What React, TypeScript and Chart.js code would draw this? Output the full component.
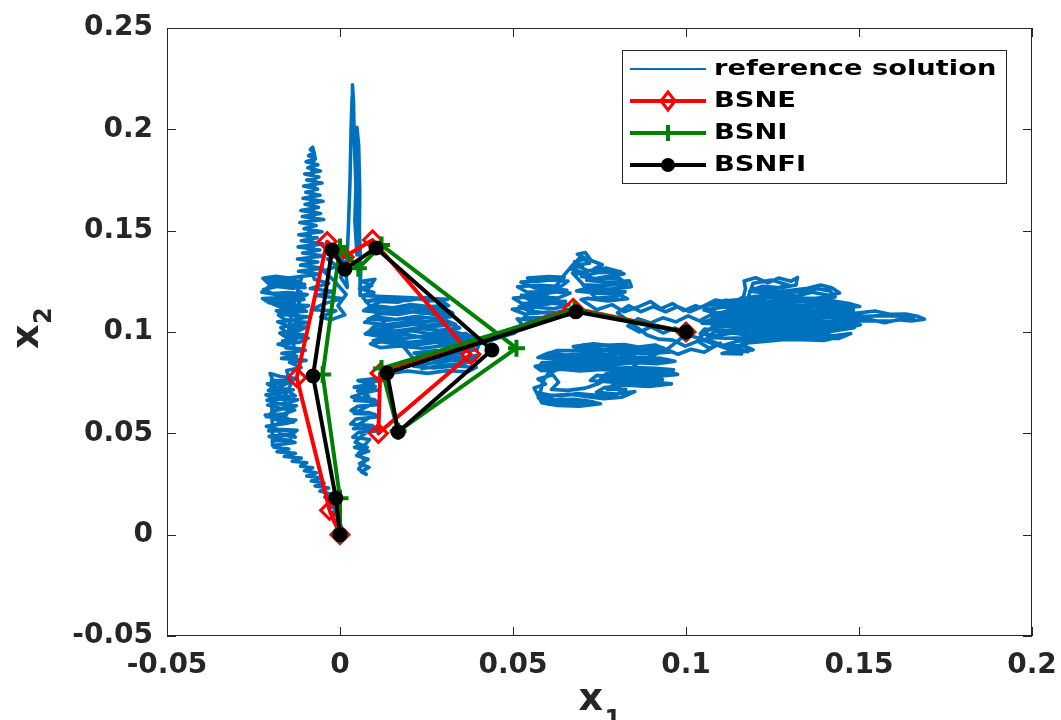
import React, { useEffect, useRef } from "react";
import { Chart, registerables } from "chart.js";

Chart.register(...registerables);

// ---- axis ticks ----
const xTicks = [-0.05, 0, 0.05, 0.1, 0.15, 0.2];
const yTicks = [-0.05, 0, 0.05, 0.1, 0.15, 0.2, 0.25];

// ---- approximation series (data units) ----
const bsneX = [0, -0.003, -0.0125, -0.0037, 0.0012, 0.0094, 0.0378, 0.0111, 0.0116, 0.0674, 0.1];
const bsneY = [0, 0.012, 0.0775, 0.1446, 0.137, 0.1454, 0.089, 0.05, 0.0797, 0.1117, 0.1];

const bsniX = [0, 0, -0.005, 0, 0.0053, 0.012, 0.051, 0.0168, 0.012, 0.0678, 0.1];
const bsniY = [0, 0.018, 0.079, 0.142, 0.1314, 0.1429, 0.092, 0.051, 0.082, 0.111, 0.1];

const bsnfiX = [0, -0.0012, -0.0078, -0.0023, 0.0014, 0.0104, 0.0439, 0.0168, 0.0136, 0.0682, 0.1];
const bsnfiY = [0, 0.0181, 0.0783, 0.1405, 0.131, 0.1415, 0.0911, 0.0507, 0.0798, 0.11, 0.1];

// ---- reference solution path, in thousandths (x1, x2), in path order ----
const refBand = [
  [0, 0], [-1.2, 2.5], [0.3, 4.5], [-1.8, 6.5], [-0.2, 8.5], [-2.6, 10.5], [-0.8, 12.5], [-3.5, 14.5],
  [-1.6, 16.5], [-4.4, 18.5], [-2.5, 20], [-5.8, 21.5], [-3.3, 23], [-7.2, 24], [-4.6, 25.5],
  [-8.3, 26.5], [-5.5, 28], [-9.6, 29], [-6.8, 30.5], [-10.3, 31.5], [-7.9, 33], [-11.4, 33.8],
  [-9.6, 35.5], [-13.8, 36.2], [-11.2, 37.8], [-16.1, 38.6], [-12.9, 40.1], [-18.2, 40.9],
  [-14.8, 42.3], [-19.1, 43.2], [-16.3, 44.8],
];
const refLeftLowFill = [
  [-14.2, 46.8], [-19.2, 46.3], [-17.4, 49.6], [-12.9, 48.1], [-14.6, 51.4], [-20.6, 51.2],
  [-18.7, 54.4], [-13.4, 55.6], [-15.8, 57.9], [-21.3, 58.2], [-18.9, 61.1], [-12.6, 63.6],
  [-15.7, 63.8], [-21.1, 66.3], [-17.6, 68.2], [-12.9, 68.4], [-14.8, 70.6], [-20.7, 71.2],
  [-16.5, 73.6], [-13.9, 75.8], [-19.8, 76.2],
];
const refLeftLow = [
  [-19.5, 44], [-13, 45.5], [-16, 47], [-20.5, 48.5], [-14, 49.5], [-12.4, 51.5], [-18, 52],
  [-21.3, 53.5], [-15.2, 55], [-12.8, 56.5], [-19.1, 57], [-21.6, 59], [-16.4, 59.5], [-13.1, 61.5],
  [-17.5, 62.5], [-20.9, 64], [-15, 65], [-12.2, 66.5], [-18.6, 67], [-21.4, 69], [-16.8, 70],
  [-13.5, 71.5], [-19.2, 72.5], [-21, 74.5], [-15.6, 75], [-12.6, 77], [-17.2, 78], [-20.2, 79.5],
  [-18.1, 70.8], [-19.6, 62.3], [-17.4, 54.6], [-15.1, 60.2], [-16.3, 67.4], [-14.2, 74.1],
  [-15.4, 81], [-11.2, 82.5], [-14.6, 85], [-9.8, 86], [-16.9, 87],
];
const refLeftHigh = [
  [-12.5, 88], [-16.8, 89.5], [-10, 91], [-14.3, 92.5], [-17.9, 94], [-11.6, 95], [-9.2, 97],
  [-15.7, 97.5], [-17.4, 99.5], [-12.2, 100.5], [-9.6, 102.5], [-14.8, 103], [-18, 105],
  [-13.1, 106], [-9.4, 107.5], [-16.2, 108.5], [-18.4, 110.5], [-11.8, 111], [-9.1, 113],
  [-15.5, 113.5], [-20.6, 114.5], [-22.4, 116.5], [-17.1, 117], [-12.3, 116.5], [-9.5, 118.5],
  [-14.8, 119.5], [-19.6, 119], [-22.1, 121], [-18.2, 122.5], [-13.4, 121.5], [-10.2, 123.5],
  [-15.9, 124.5], [-20.7, 124], [-22.3, 126.5], [-18.6, 127.5], [-14.2, 126.5], [-11, 127.5],
  [-13.6, 112.2], [-15.4, 96.1], [-12.9, 104.4], [-11.3, 119.8],
];
const refLeftHighFill = [
  [-13.7, 89.2], [-11.5, 91.7], [-15.6, 92.1], [-16.6, 95.6], [-12.9, 96.3], [-10.6, 98.6],
  [-15.2, 99.3], [-17.1, 102.2], [-13.6, 103.6], [-9.2, 104.7], [-11.2, 105.1], [-15.9, 106.1],
  [-17.8, 108.4], [-14.5, 109.7], [-9.7, 110.2], [-12.8, 112.6], [-17.1, 112.1], [-21.4, 115.4],
  [-18.7, 115.6], [-14.2, 115.2], [-10.4, 116.1], [-13.4, 118.3], [-18.1, 118.4], [-22.6, 119.6],
  [-20.4, 122.6], [-15.2, 122.7], [-10.1, 121.9], [-12.1, 125.2], [-16.9, 125.9], [-21.4, 125.3],
];
const refColumn = [
  [-6.1, 128.5], [-12, 130], [-5, 131.5], [-11.4, 133], [-6.4, 134.5], [-12.3, 136], [-4.6, 137.5],
  [-10.8, 139], [-5.8, 140.5], [-12.1, 142], [-4.9, 143.5], [-11.2, 145], [-6.6, 146.5],
  [-11.9, 148], [-5.2, 149.5], [-10.4, 151], [-6.9, 152.5], [-11.6, 154], [-4.7, 155.5],
  [-10.9, 157], [-5.6, 158.5], [-11.3, 160], [-6.2, 161.5], [-10.1, 163], [-4.9, 164.5],
  [-10.7, 166], [-5.8, 167.5], [-9.9, 169], [-6.5, 170.5], [-10.5, 172], [-5.2, 173.5],
  [-9.6, 175], [-6.1, 176.5], [-10.2, 178], [-5.7, 179.5], [-9.3, 181], [-6.4, 182.5], [-9.8, 184],
  [-7.1, 185.5], [-9.1, 187], [-7.4, 188.5], [-8.6, 190], [-7.9, 191.2], [-7.2, 186], [-8.3, 180],
  [-6.9, 174], [-8.7, 166], [-7.3, 158], [-9.1, 150], [-7.6, 142], [-8.8, 134], [-7.4, 126],
];
const refBase = [
  [-3.2, 124], [-8.6, 121.5], [-1.8, 120], [-6.9, 118], [0.6, 116.5], [-4.5, 114], [-8.3, 111],
  [-1.2, 110.5], [-5.6, 107.5], [-2.7, 106], [1.4, 108.5], [-0.6, 113], [1.8, 118.5], [-2.1, 126],
  [-4.8, 130], [-0.9, 132.5], [-3.6, 136], [0.4, 138.5], [-1.9, 140], [1.5, 134], [0.2, 127],
  [2.1, 122],
];
const refSpike = [
  [1.8, 128], [2.4, 150], [2.9, 175], [3.2, 200], [3.5, 216], [3.6, 222], [3.9, 214], [4.1, 196],
  [4.6, 172], [4.3, 155], [4.9, 138], [5.0, 160], [5.1, 185], [4.9, 201], [5.4, 192], [5.7, 170],
  [5.6, 150], [6.0, 130], [5.8, 118],
];
const refMidFill = [
  [31.1, 116.1], [25.8, 115.3], [21.1, 116.9], [16.7, 114.7], [11.6, 115.1], [8.2, 111.7],
  [13.6, 111.2], [19.6, 112.4], [25.2, 111.1], [29.7, 111.9], [32.6, 109.3], [27.2, 108.6],
  [21.9, 110.2], [16.8, 108.6], [11.8, 109.1], [8.1, 106.3], [13.7, 105.8], [19.1, 106.7],
  [24.8, 105.2], [30.1, 106.1], [33.4, 103.7], [27.6, 102.8], [21.4, 103.8], [15.2, 102.4],
  [10.1, 103.4], [8.4, 100.2], [14.1, 99.2], [20.5, 100.6], [26.3, 99.1], [32.6, 100.7],
  [37.1, 97.8], [31.9, 96.9], [25.4, 98.2], [19.1, 96.9], [13.2, 97.1], [9.6, 95.8], [15.6, 94.2],
  [21.9, 93.6], [27.9, 94.9], [34.2, 93.9], [38.6, 92.6], [35.4, 89.6], [29.4, 89.3], [23.2, 88.7],
  [27.8, 86.1], [33.9, 86.8], [39.2, 86.3], [35.1, 84.1], [29.3, 83.6], [23.6, 81.9],
];
const refMidUpper = [
  [6.2, 118], [9.8, 119.5], [5.6, 121.5], [9.2, 123], [6.4, 125], [10.1, 126], [7.8, 120.5],
  [11.2, 116.5], [7.4, 115], [14.2, 116.5], [19.8, 115.5], [24.6, 117], [29.4, 115.2], [31.4, 113],
  [26.1, 112.5], [20.5, 113.5], [15.3, 112], [9.1, 113], [6.8, 110.5], [12.4, 109.5], [18.7, 110.8],
  [23.9, 109.2], [30.2, 110.1], [32.1, 107.5], [27.3, 106.8], [21.6, 107.6], [16.2, 106.2],
  [10.5, 107.4], [7.1, 104.8], [13.1, 103.6], [19.4, 104.9], [25.2, 103.3], [31.4, 104.6],
  [34.6, 102], [28.7, 100.8], [22.5, 101.9], [15.9, 100.5], [9.6, 101.6], [7.3, 99], [12.8, 97.6],
  [18.9, 98.9], [24.6, 97.2], [30.8, 98.5], [36.2, 99.3], [38.9, 96.6], [33.1, 95.4], [26.7, 96.1],
  [20.2, 94.9], [14.1, 95.8], [8.8, 94.2], [11.6, 92.3], [17.4, 93.1], [23.7, 92], [29.9, 93.2],
  [35.7, 92.8], [40.2, 94.1], [39.6, 91.2], [33.8, 90.1], [27.6, 90.8], [21.4, 89.6], [24.9, 87.3],
  [30.7, 88.1], [36.4, 87.4], [40.1, 88.6], [38.2, 85.4], [32.5, 85.9], [26.4, 84.7], [21.2, 83.1],
  [27.1, 82.3], [33.6, 83.2], [39.4, 82.5], [36.9, 80.4], [30.8, 80.9], [25.3, 79.6], [19.6, 80.8],
];
const refMidLow = [
  [14.1, 79.5], [10.9, 77.2], [5.2, 76], [9.6, 74.3], [4.1, 72.8], [10.8, 71.4], [6.3, 69.6],
  [3.4, 68], [9.9, 66.7], [11.3, 64.2], [5.1, 63.3], [3.2, 61.2], [8.7, 60.1], [11.1, 58.2],
  [4.6, 57.1], [3.1, 54.6], [9.4, 53.8], [10.7, 51.2], [5.3, 50.4], [3.7, 48.1], [8.6, 47],
  [7.2, 44.3], [4.2, 43.1], [8.3, 41.2], [4.8, 39.1], [8.1, 37.2], [5.6, 35.1], [8.4, 33.2],
  [6.1, 31.1], [7.6, 29.8], [5.4, 32.4], [7.3, 36.4], [5.3, 40.2], [7.9, 43.1], [4.4, 45.6],
  [6.4, 48.9], [9.8, 52.6], [3.9, 52.3], [6.9, 56.1], [10.1, 59.4], [4.1, 59.8], [7.1, 62.6],
  [10.6, 65.6], [4.2, 66.2], [8.3, 68.4], [5.1, 70.9], [10.2, 73.1], [6.8, 75.1], [12.1, 76],
  [13.6, 78.2], [16.3, 81.5], [22.7, 84.8], [30.5, 89], [36.8, 92.3], [41.2, 94.6], [44.6, 96.4],
  [47.5, 98], [50.5, 99.5], [52.5, 104],
];
const refRightLeft = [
  [51.2, 106.5], [56.6, 105.5], [62.3, 107.4], [66.8, 108.6], [60.1, 109.8], [53.4, 108.9],
  [49.8, 111.2], [55.7, 112.3], [61.9, 111.5], [66.2, 113.4], [59.4, 114.6], [52.6, 114.1],
  [50.1, 116.7], [56.2, 117.4], [63.1, 116.8], [66.5, 119.2], [60.3, 120.1], [54.1, 119.6],
  [51.3, 122.3], [57.5, 123.1], [63.8, 122.4], [65.9, 125.1], [59.7, 125.8], [54.2, 126.6],
  [60.2, 127.4], [64.8, 127],
];
const refRightLeftFill = [
  [53.1, 106.9], [58.4, 107.1], [65.3, 110.9], [61.5, 109.1], [54.6, 110.4], [51.8, 112.6],
  [58.3, 113.3], [65.2, 115.2], [61.2, 115.3], [55.1, 115.6], [52.4, 118.1], [58.2, 118.6],
  [65.6, 120.6], [61.7, 121.3], [56.4, 121.7], [52.3, 124.6], [57.1, 125.1], [63.8, 126.1],
];
const refRightUpperFill = [
  [66.9, 132.4], [69.7, 137.2], [72.1, 133.9], [68.1, 133.1], [71.6, 130.2], [76.8, 131.6],
  [81.2, 129.6], [74.4, 129.3], [69.8, 127.4], [74.8, 126.1], [80.6, 126.7], [82.9, 123.8],
  [75.6, 122.9], [70.2, 123.3], [71.8, 120.6], [77.6, 119.8], [82.4, 119.9], [79.6, 117.1],
  [73.9, 116.8],
];
const refRightUpper = [
  [67.2, 129.1], [72.4, 128.2], [66.4, 131.3], [70.1, 132.6], [67.8, 134.7], [71.2, 136.1],
  [68.6, 138.4], [70.9, 139.2], [72.6, 135.3], [75.8, 133.2], [73.4, 131.1], [78.9, 130.4],
  [82.1, 128.6], [76.2, 127.1], [71.3, 125.5], [77.5, 124.4], [83.6, 125.3], [84.2, 122.4],
  [78.1, 121.2], [72.3, 122.1], [68.4, 120.2], [74.2, 119.1], [80.5, 118.6], [83.1, 116.4],
  [77.4, 115.3], [71.6, 116.6], [69.7, 116],
];
const refRightMid = [
  [74.2, 111], [78.6, 113.5], [82.1, 110], [86.4, 112.5], [89.7, 115], [92.8, 111.5], [96.1, 114],
  [99.4, 110.5], [102.8, 113],
];
const refFarRight = [
  [104.2, 112], [108.6, 115.8], [113.4, 114.2], [116.6, 117.3], [117.2, 121.4], [116.8, 125.2],
  [120.1, 126.8], [123.6, 124.3], [126.8, 126.6], [130.4, 125.1], [132.2, 126.9], [131.8, 123.2],
  [127.6, 121.8], [122.1, 122.6], [118.4, 120.1], [123.5, 119.2], [129.1, 120.3], [134.6, 121.4],
  [138.9, 123.2], [142.1, 121.8], [144.4, 119.2], [141.2, 118.1], [136.4, 119.6], [132.1, 117.8],
  [126.4, 118.5], [120.2, 117.6], [115.7, 116.1], [109.2, 114.6], [115.1, 113.8], [121.6, 114.7],
  [128.3, 115.4], [135.2, 114.9], [141.3, 115.6], [147.1, 114.1], [150.2, 112.6], [144.8, 112.2],
  [138.1, 112.9], [131.4, 111.8], [124.6, 112.4], [117.8, 111.6], [111.1, 112.3], [105.2, 110.8],
  [108.4, 109.4], [115.2, 110.1], [122.3, 109.2], [129.4, 110], [136.6, 109.1], [143.2, 110.2],
  [149.5, 109.3], [154.6, 110.4], [158.9, 108.7], [163.5, 108.9], [167.2, 107.6], [168.9, 106.3],
  [165.1, 105.4], [161.2, 106.1], [157.4, 104.6], [153.2, 106.2], [148.6, 106.9], [142.4, 107.3],
  [135.7, 106.6], [128.8, 107.2], [121.9, 106.5], [114.6, 107.1], [107.5, 106.3], [104.6, 104.4],
  [110.3, 103.8], [117.1, 104.6], [124.2, 103.5], [131.3, 104.4], [138.4, 103.8], [145.6, 104.2],
  [150.4, 103.6], [146.1, 101.8], [139.2, 101.1], [132.4, 101.9], [125.6, 100.8], [118.3, 101.6],
  [111.6, 100.7], [105.3, 101.4], [104.1, 99.2], [108.7, 98.1], [113.4, 99.5], [118.6, 98.3],
  [124.2, 99.6], [130.1, 98.2], [136.3, 99.4], [142.4, 98.1], [147.6, 99.2], [144.1, 96.8],
  [137.5, 97.3], [131.2, 96.5], [125.3, 97.4], [119.6, 96.2], [114.8, 95.4], [111.2, 93.6],
  [116.9, 93.1], [119.4, 91.2], [113.6, 90.6], [110.4, 89.4], [116.1, 89.2], [112.3, 92.4],
  [107.2, 95.6], [103.6, 97],
];
const refFarRightFill = [
  [108.2, 103.1], [114.1, 108.4], [117.6, 115.2], [119.4, 124.1], [124.8, 125.6], [129.7, 123.1],
  [128.2, 122.6], [124.9, 120.8], [119.8, 121.4], [121.6, 118.9], [127.8, 119.4], [133.3, 119.9],
  [137.9, 121.4], [141.6, 120.3], [143.1, 117.3], [137.9, 116.8], [131.2, 116.6], [124.1, 116.9],
  [117.6, 115.2], [111.2, 115.6], [106.4, 113.4], [112.9, 113.1], [119.6, 113.2], [126.8, 113.9],
  [133.6, 113.2], [140.2, 114.1], [146.6, 112.9], [148.4, 111.1], [141.6, 111.3], [134.8, 110.6],
  [127.6, 111.4], [120.6, 110.5], [113.4, 111.1], [107.1, 108.1], [113.6, 108.6], [120.2, 107.8],
  [127.1, 108.8], [134.2, 107.8], [141.4, 108.9], [147.2, 108.3], [152.4, 107.8], [156.8, 108.1],
  [161.5, 107.9], [165.8, 107.1], [159.6, 105.4], [155.2, 105.4], [146.3, 105.6], [139.7, 105.2],
  [132.8, 105.8], [125.7, 105.1], [118.9, 105.9], [112.1, 105.2], [106.2, 105.1], [108.6, 102.6],
  [115.3, 102.9], [122.1, 102.2], [129.2, 102.9], [136.1, 102.4], [143.5, 102.9], [148.6, 102.1],
  [141.8, 100.2], [134.9, 100.4], [128.1, 99.7], [121.4, 100.2], [114.7, 100.1], [108.2, 100.1],
  [106.2, 97.3], [111.6, 96.9], [117.2, 97.1], [122.1, 98.1], [128.4, 97.1], [134.1, 98.2],
  [140.2, 97.1], [145.8, 98.2], [139.8, 95.8], [133.8, 96.2], [127.9, 96.2], [122.6, 95.3],
  [117.8, 94.6], [113.8, 92.6], [117.9, 90.3], [112.6, 91.3],
];
const refBand2 = [
  [100.1, 99], [96.8, 102], [93.4, 99.5], [89.9, 102.5], [86.5, 100], [83.2, 103], [86.1, 106.5],
  [89.8, 104.5], [93.3, 107], [97.1, 105], [100.6, 108], [103.9, 105.5], [107.2, 108.5],
  [110.4, 106], [108.1, 110.5], [104.6, 112.5], [101.1, 110], [97.6, 112.5], [94.1, 110],
  [90.5, 112.5], [86.9, 110], [83.4, 113], [80.2, 109.5], [84.5, 104], [88.7, 98.5], [92.1, 96.5],
  [96.2, 96], [99.8, 93], [103.4, 95.5], [106.7, 92], [109.9, 94.5], [105.3, 90], [101.4, 91.5],
  [97.7, 89], [94.2, 91.5], [90.6, 88.5], [87.1, 91], [83.8, 88],
];
const refLowBlobFill = [
  [70.2, 93.6], [76.1, 93.4], [82.1, 93.8], [86.2, 92.6], [91.1, 93.6], [94.2, 91.3], [86.2, 90.4],
  [80.1, 90.9], [74.1, 90.4], [68.2, 90.8], [62.6, 90.8], [58.7, 88.6], [65.2, 87.4], [71.4, 87.9],
  [77.8, 87.3], [83.9, 87.8], [89.6, 87.3], [94.8, 86.4], [88.6, 85.6], [82.4, 85.8], [76.2, 85.3],
  [70.1, 85.8], [63.8, 84.9], [58.4, 84.9], [57.2, 82.1], [61.6, 82.8], [66.6, 82.3], [72.8, 82.9],
  [78.9, 82.1], [85.1, 82.4], [91.2, 82.1], [96.4, 81.3], [95.1, 78.8], [89.1, 79.6], [82.8, 79.4],
  [76.9, 79.4], [75.4, 77.1], [81.2, 76.9], [87.4, 77.1], [93.2, 76.6], [92.4, 74.1], [86.1, 74.6],
  [79.4, 74.3], [77.1, 71.8], [82.6, 71.6], [79.1, 68.6], [73.4, 68.9], [68.6, 69.6], [63.8, 68.4],
  [58.7, 69.2], [61.8, 66.4], [67.6, 66.8], [73.1, 65.6], [66.2, 64.4], [60.2, 64.4], [57.3, 67.6],
  [58.1, 71.4], [58.6, 75.6], [60.1, 79.4], [66.3, 84.1], [72.9, 88.6],
];
const refLowBlob = [
  [79.6, 93.1], [73.2, 94.2], [67.4, 92.8], [71.8, 91.1], [77.6, 91.6], [83.5, 92.4], [88.4, 91.2],
  [93.2, 92.3], [95.6, 90.1], [89.1, 89.3], [83.2, 89.8], [77.1, 88.7], [71.2, 89.4], [65.3, 88.6],
  [60.1, 89.5], [57.2, 87.4], [62.6, 86.6], [68.4, 87.2], [74.6, 86.1], [80.7, 86.8], [86.9, 86.2],
  [92.4, 87.1], [96.8, 85.6], [91.7, 84.4], [85.3, 84.9], [79.2, 83.8], [73.1, 84.5], [66.8, 83.6],
  [60.9, 84.3], [56.4, 83.1], [58.2, 80.9], [63.8, 81.6], [69.4, 80.8], [75.8, 81.5], [81.9, 80.6],
  [88.1, 81.4], [94.3, 80.7], [97.6, 79.1], [92.1, 78.2], [85.8, 78.8], [79.6, 77.9], [74.2, 78.6],
  [72.4, 76.1], [78.1, 75.4], [84.3, 76.2], [90.5, 75.3], [95.8, 74.4], [89.2, 73.1], [82.6, 73.8],
  [76.4, 72.6], [74.1, 70.2], [79.8, 69.4], [85.2, 70.6], [81.4, 67.8], [76.2, 67.1], [71.5, 68.1],
  [66.4, 69.3], [61.2, 68.6], [56.9, 70.1], [59.6, 66.4], [64.8, 65.2], [70.6, 66.3], [75.3, 64.6],
  [69.2, 63.4], [62.8, 63.8], [58.3, 65.1], [56.1, 72.4], [59.4, 74.3], [57.2, 76.8], [61.5, 78.9],
  [63.2, 75.2], [61.1, 71.6], [65.8, 71.2], [70.9, 72.3], [74.8, 74.6], [78.4, 78], [82.6, 80],
  [86.4, 85], [90.3, 88.5], [94.2, 91], [97.9, 96], [100.3, 99.5],
];

const refSegments = [
  refBand, refLeftLowFill, refLeftLow, refLeftHigh, refLeftHighFill, refColumn, refBase, refSpike,
  refMidFill, refMidUpper, refMidLow, refRightLeft, refRightLeftFill, refRightUpperFill,
  refRightUpper, refRightMid, refFarRight, refFarRightFill, refBand2, refLowBlobFill, refLowBlob,
];

const legendLabels = ["reference solution", "BSNE", "BSNI", "BSNFI"];
const FONT = "'DejaVu Sans', 'Liberation Sans', sans-serif";
const AXIS_COLOR = "#262626";

function toPoints(xs: number[], ys: number[]) {
  return xs.map((x, i) => ({ x, y: ys[i] }));
}

function refPoints() {
  const out: { x: number; y: number }[] = [];
  refSegments.forEach((seg) => seg.forEach(([a, b]) => out.push({ x: a / 1000, y: b / 1000 })));
  return out;
}

function drawMarker(ctx: CanvasRenderingContext2D, kind: string, x: number, y: number, color: string) {
  ctx.save();
  ctx.strokeStyle = color;
  ctx.fillStyle = color;
  if (kind === "diamond") {
    ctx.lineWidth = 3;
    ctx.beginPath();
    ctx.moveTo(x, y - 9);
    ctx.lineTo(x + 7, y);
    ctx.lineTo(x, y + 9);
    ctx.lineTo(x - 7, y);
    ctx.closePath();
    ctx.stroke();
  } else if (kind === "plus") {
    ctx.lineWidth = 4;
    ctx.beginPath();
    ctx.moveTo(x, y - 8);
    ctx.lineTo(x, y + 8);
    ctx.stroke();
  } else if (kind === "circle") {
    ctx.beginPath();
    ctx.arc(x, y, 7, 0, Math.PI * 2);
    ctx.fill();
  }
  ctx.restore();
}

function stretchedText(ctx: CanvasRenderingContext2D, text: string, x: number, y: number, font: string, sx: number) {
  ctx.save();
  ctx.translate(x, y);
  ctx.scale(sx, 1);
  ctx.font = font;
  ctx.fillText(text, 0, 0);
  ctx.restore();
}

const overlayPlugin = {
  id: "matlabOverlay",
  afterDatasetsDraw(chart: any) {
    const { ctx, chartArea: a, scales } = chart;
    ctx.save();
    // box
    ctx.strokeStyle = AXIS_COLOR;
    ctx.lineWidth = 1;
    ctx.strokeRect(a.left + 0.5, a.top + 0.5, a.right - a.left - 1, a.bottom - a.top - 1);
    // inward ticks
    const TL = 9;
    ctx.beginPath();
    xTicks.forEach((v) => {
      const p = Math.round(scales.x.getPixelForValue(v)) + 0.5;
      ctx.moveTo(p, a.bottom);
      ctx.lineTo(p, a.bottom - TL);
      ctx.moveTo(p, a.top);
      ctx.lineTo(p, a.top + TL);
    });
    yTicks.forEach((v) => {
      const p = Math.round(scales.y.getPixelForValue(v)) + 0.5;
      ctx.moveTo(a.left, p);
      ctx.lineTo(a.left + TL, p);
      ctx.moveTo(a.right, p);
      ctx.lineTo(a.right - TL, p);
    });
    ctx.stroke();

    // legend
    const lx = 622, ly = 50, lw = 384, lh = 133;
    ctx.fillStyle = "#ffffff";
    ctx.fillRect(lx, ly, lw, lh);
    ctx.strokeStyle = AXIS_COLOR;
    ctx.lineWidth = 1;
    ctx.strokeRect(lx + 0.5, ly + 0.5, lw, lh);
    const styles = [
      { color: "#0072BD", width: 2, marker: "" },
      { color: "#FF0000", width: 4, marker: "diamond" },
      { color: "#008000", width: 4, marker: "plus" },
      { color: "#000000", width: 4, marker: "circle" },
    ];
    legendLabels.forEach((label, i) => {
      const y = ly + 19 + i * 32;
      const s = styles[i];
      ctx.strokeStyle = s.color;
      ctx.lineWidth = s.width;
      ctx.beginPath();
      ctx.moveTo(lx + 8, y);
      ctx.lineTo(lx + 84, y);
      ctx.stroke();
      if (s.marker) drawMarker(ctx, s.marker, lx + 46, y, s.color);
      ctx.fillStyle = "#000000";
      ctx.textBaseline = "middle";
      ctx.textAlign = "left";
      stretchedText(ctx, label, lx + 92, y + 1, `bold 21px ${FONT}`, 1.3);
    });

    // axis titles
    ctx.fillStyle = AXIS_COLOR;
    ctx.textBaseline = "alphabetic";
    ctx.textAlign = "left";
    const cx = (a.left + a.right) / 2;
    ctx.font = `bold 38px ${FONT}`;
    ctx.fillText("x", cx - 21, 710);
    ctx.font = `bold 24px ${FONT}`;
    ctx.fillText("1", cx + 5, 727);

    const cy = (a.top + a.bottom) / 2;
    ctx.save();
    ctx.translate(38, cy + 17);
    ctx.rotate(-Math.PI / 2);
    ctx.font = `bold 38px ${FONT}`;
    ctx.fillText("x", 0, 0);
    ctx.font = `bold 24px ${FONT}`;
    ctx.fillText("2", 25, 13);
    ctx.restore();

    ctx.restore();
  },
};

export default function App() {
  const canvasRef = useRef<HTMLCanvasElement | null>(null);

  useEffect(() => {
    document.body.style.margin = "0";
    const canvas = canvasRef.current;
    if (!canvas) return;
    const tickFont = { family: FONT, size: 28, weight: "bold" as const };
    const fmt = (v: any) => String(Number(Number(v).toFixed(2)));

    const chart = new Chart(canvas, {
      type: "scatter",
      data: {
        datasets: [
          {
            label: "BSNFI",
            data: toPoints(bsnfiX, bsnfiY),
            showLine: true,
            borderColor: "#000000",
            backgroundColor: "#000000",
            borderWidth: 4,
            borderJoinStyle: "round",
            pointStyle: "circle",
            pointRadius: 7.5,
            pointBorderWidth: 0,
            pointBackgroundColor: "#000000",
            order: 0,
          },
          {
            label: "BSNI",
            data: toPoints(bsniX, bsniY),
            showLine: true,
            borderColor: "#008000",
            backgroundColor: "#008000",
            borderWidth: 4,
            borderJoinStyle: "round",
            pointStyle: "cross",
            pointRadius: 8.5,
            pointBorderWidth: 4,
            order: 1,
          },
          {
            label: "BSNE",
            data: toPoints(bsneX, bsneY),
            showLine: true,
            borderColor: "#FF0000",
            backgroundColor: "rgba(255,255,255,0)",
            borderWidth: 4,
            borderJoinStyle: "round",
            pointStyle: "rectRot",
            pointRadius: 9,
            pointBorderWidth: 3,
            pointBackgroundColor: "rgba(255,255,255,0)",
            order: 2,
          },
          {
            label: "reference solution",
            data: refPoints(),
            showLine: true,
            borderColor: "#0072BD",
            backgroundColor: "#0072BD",
            borderWidth: 3.6,
            borderJoinStyle: "round",
            borderCapStyle: "round",
            pointRadius: 0,
            order: 3,
          },
        ],
      },
      options: {
        animation: false,
        responsive: false,
        devicePixelRatio: 1,
        layout: { padding: { left: 0, right: 29, top: 28, bottom: 0 } },
        plugins: { legend: { display: false }, tooltip: { enabled: false } },
        scales: {
          x: {
            type: "linear",
            min: -0.05,
            max: 0.2,
            grid: { display: false, drawTicks: false },
            border: { display: false },
            afterBuildTicks: (s: any) => { s.ticks = xTicks.map((v) => ({ value: v })); },
            afterFit: (s: any) => {
              s.height = 84;
              s.paddingLeft = 0; s.paddingRight = 0; s.paddingTop = 0; s.paddingBottom = 0;
            },
            ticks: { font: tickFont, color: AXIS_COLOR, padding: 13, maxRotation: 0, autoSkip: false, callback: fmt },
          },
          y: {
            type: "linear",
            min: -0.05,
            max: 0.25,
            grid: { display: false, drawTicks: false },
            border: { display: false },
            afterBuildTicks: (s: any) => { s.ticks = yTicks.map((v) => ({ value: v })); },
            afterFit: (s: any) => {
              s.width = 167;
              s.paddingLeft = 0; s.paddingRight = 0; s.paddingTop = 0; s.paddingBottom = 0;
            },
            ticks: { font: tickFont, color: AXIS_COLOR, padding: 14, autoSkip: false, callback: fmt },
          },
        },
      },
      plugins: [overlayPlugin],
    } as any);

    return () => chart.destroy();
  }, []);

  return (
    <div style={{ width: 1061, height: 720, background: "#ffffff" }}>
      <canvas ref={canvasRef} width={1061} height={720} style={{ display: "block" }} />
    </div>
  );
}
